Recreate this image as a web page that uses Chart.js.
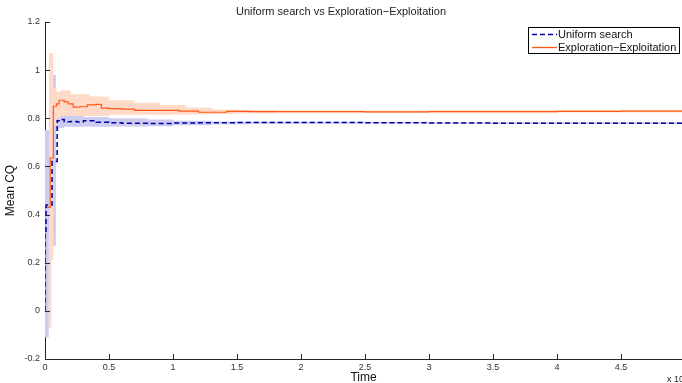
<!DOCTYPE html>
<html><head><meta charset="utf-8">
<script src="https://cdn.jsdelivr.net/npm/chart.js@4.4.1/dist/chart.umd.min.js"></script>
<style>html,body{margin:0;padding:0;background:#fff;overflow:hidden}</style>
</head><body>
<canvas id="c" width="682" height="383"></canvas>
<script>
// Time in units of 10^4
const usTime = [0, 0.008, 0.055, 0.095, 0.11, 0.15, 0.2, 0.25, 0.3, 0.4, 0.5, 0.6, 0.8, 1.0, 1.2, 1.5, 2.0, 2.5, 3.0, 3.5, 4.0, 4.5, 4.977];
const usMean = [0, 0.32, 0.44, 0.62, 0.79, 0.795, 0.786, 0.787, 0.785, 0.79, 0.784, 0.781, 0.779, 0.778, 0.78, 0.781, 0.782, 0.782, 0.781, 0.78, 0.779, 0.779, 0.779];
const usBandTime = [0, 0.03, 0.06, 0.085, 0.11, 0.15, 0.3, 0.5, 0.8, 1.0, 1.3, 1.6, 2.0, 3.0, 4.0, 4.977];
const usLow  = [-0.12, -0.11, 0.3, 0.27, 0.745, 0.76, 0.765, 0.765, 0.766, 0.767, 0.771, 0.775, 0.777, 0.777, 0.776, 0.776];
const usHigh = [0.79, 0.75, 0.8, 0.98, 0.81, 0.815, 0.81, 0.805, 0.8, 0.795, 0.79, 0.787, 0.787, 0.786, 0.784, 0.784];

const eeTime = [0, 0.04, 0.065, 0.09, 0.11, 0.15, 0.18, 0.22, 0.27, 0.33, 0.4, 0.44, 0.5, 0.6, 0.7, 0.85, 1.05, 1.2, 1.42, 1.6, 2.0, 2.5, 3.0, 3.5, 4.0, 4.5, 4.977];
const eeMean = [0, 0.43, 0.635, 0.85, 0.86, 0.875, 0.868, 0.86, 0.846, 0.848, 0.856, 0.858, 0.842, 0.84, 0.838, 0.833, 0.833, 0.83, 0.825, 0.829, 0.828, 0.828, 0.827, 0.828, 0.828, 0.829, 0.83];
const eeBandTime = [0.03, 0.05, 0.065, 0.09, 0.12, 0.2, 0.35, 0.5, 0.7, 0.9, 1.1, 1.3, 1.5, 1.8, 2.2, 3.0, 4.0, 4.977];
const eeLow  = [-0.07, -0.07, 0.21, 0.77, 0.80, 0.81, 0.81, 0.81, 0.815, 0.815, 0.815, 0.816, 0.818, 0.82, 0.822, 0.822, 0.823, 0.824];
const eeHigh = [0.95, 1.07, 1.07, 0.925, 0.91, 0.915, 0.9, 0.89, 0.875, 0.865, 0.855, 0.845, 0.836, 0.834, 0.832, 0.832, 0.833, 0.834];

const yTicks = [-0.2, 0, 0.2, 0.4, 0.6, 0.8, 1, 1.2];
const xTicks = [0, 0.5, 1, 1.5, 2, 2.5, 3, 3.5, 4, 4.5];

const seriesNames = ['Uniform search', 'Exploration\u2212Exploitation'];
const blueLine = 'rgb(0,0,165)', orangeLine = 'rgb(255,90,20)';
const blueBand = 'rgb(205,205,242)', orangeBand = 'rgb(255,218,200)';

const pts = (xs, ys) => xs.map((x, i) => ({x, y: ys[i]}));
const base = {pointRadius: 0, stepped: 'after', tension: 0};

const FONT = "'Liberation Sans', Arial, sans-serif";

const overlay = {
  id: 'overlay',
  afterDraw(chart) {
    const ctx = chart.ctx;
    const xs = chart.scales.x, ys = chart.scales.y;
    const ca = chart.chartArea;
    ctx.save();
    ctx.strokeStyle = '#262626';
    ctx.lineWidth = 1;
    ctx.beginPath();
    xTicks.forEach(v => { const px = Math.round(xs.getPixelForValue(v)) + 0.5; ctx.moveTo(px, ca.bottom); ctx.lineTo(px, ca.bottom - 5); });
    yTicks.forEach(v => { const py = Math.round(ys.getPixelForValue(v)) + 0.5; ctx.moveTo(ca.left, py); ctx.lineTo(ca.left + 5, py); });
    ctx.stroke();
    // exponent label
    ctx.fillStyle = '#222';
    ctx.font = '9px ' + FONT;
    ctx.textBaseline = 'middle';
    ctx.textAlign = 'left';
    ctx.fillText('x 10', 667, 380);
    ctx.font = '7px ' + FONT;
    ctx.fillText('4', 684, 375);
    // legend
    const lx = 528.5, ly = 27.5, lw = 151, lh = 26;
    ctx.fillStyle = '#fff';
    ctx.fillRect(lx, ly, lw, lh);
    ctx.strokeStyle = '#000';
    ctx.strokeRect(lx, ly, lw, lh);
    ctx.lineWidth = 1.3;
    ctx.strokeStyle = blueLine;
    ctx.setLineDash([5, 3]);
    ctx.beginPath(); ctx.moveTo(532, 34.5); ctx.lineTo(557, 34.5); ctx.stroke();
    ctx.setLineDash([]);
    ctx.strokeStyle = orangeLine;
    ctx.beginPath(); ctx.moveTo(532, 47.5); ctx.lineTo(557, 47.5); ctx.stroke();
    ctx.fillStyle = '#111';
    ctx.font = '11px ' + FONT;
    ctx.fillText(seriesNames[0], 558, 35);
    ctx.fillText(seriesNames[1], 558, 48);
    ctx.restore();
  }
};

new Chart(document.getElementById('c'), {
  type: 'line',
  data: {
    datasets: [
      {...base, order: 5, data: pts(usBandTime, usHigh), borderWidth: 0, borderColor: 'transparent', backgroundColor: blueBand, fill: '+1'},
      {...base, order: 5, data: pts(usBandTime, usLow), borderWidth: 0, borderColor: 'transparent', fill: false},
      {...base, order: 3, data: pts(eeBandTime, eeHigh), borderWidth: 0, borderColor: 'transparent', backgroundColor: orangeBand, fill: '+1'},
      {...base, order: 3, data: pts(eeBandTime, eeLow), borderWidth: 0, borderColor: 'transparent', fill: false},
      {...base, order: 1, label: seriesNames[1], data: pts(eeTime, eeMean), borderColor: orangeLine, borderWidth: 1.2, fill: false},
      {...base, order: 0, label: seriesNames[0], data: pts(usTime, usMean), borderColor: blueLine, borderWidth: 1.5, borderDash: [5, 3], fill: false}
    ]
  },
  options: {
    responsive: false,
    animation: false,
    devicePixelRatio: 1,
    layout: {padding: {top: 0, left: 0, right: 0, bottom: 0}},
    plugins: {
      legend: {display: false},
      tooltip: {enabled: false},
      title: {display: true, text: 'Uniform search vs Exploration\u2212Exploitation', color: '#222',
        font: {family: FONT, size: 11, weight: 'normal', lineHeight: 1.2}, padding: {top: 5, bottom: 3.8}}
    },
    scales: {
      x: {
        type: 'linear', min: 0, max: 4.977,
        grid: {display: false, tickLength: 0, drawTicks: false},
        border: {display: true, color: '#262626', width: 1},
        ticks: {stepSize: 0.5, includeBounds: false, autoSkip: false, maxRotation: 0, padding: 3,
          color: '#333', font: {family: FONT, size: 9},
          callback: v => String(Number(v.toFixed(1)))},
        title: {display: true, text: 'Time', color: '#111', font: {family: FONT, size: 12, lineHeight: 1}, padding: {top: 0, bottom: -1}},
        afterFit: s => { s.height = 24; }
      },
      y: {
        type: 'linear', min: -0.2, max: 1.2,
        grid: {display: false, tickLength: 0, drawTicks: false},
        border: {display: true, color: '#262626', width: 1},
        ticks: {stepSize: 0.2, includeBounds: false, padding: 5, color: '#333', font: {family: FONT, size: 9},
          callback: v => String(Number(v.toFixed(1)))},
        title: {display: true, text: 'Mean CQ', color: '#111', font: {family: FONT, size: 12, lineHeight: 1.2}, padding: {top: 3, bottom: 0}},
        afterFit: s => { s.width = 45; }
      }
    }
  },
  plugins: [overlay]
});
</script>
</body></html>
